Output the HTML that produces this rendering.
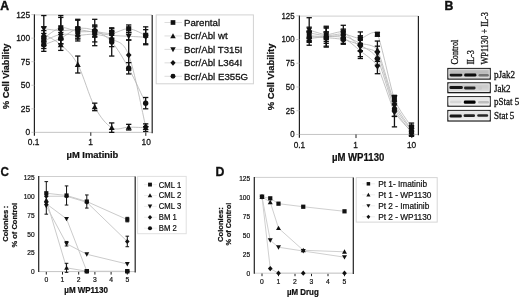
<!DOCTYPE html>
<html><head><meta charset="utf-8"><style>
html,body{margin:0;padding:0;background:#fff;overflow:hidden}
svg{display:block;will-change:transform;filter:blur(0.3px)}
</style></head><body>
<svg width="520" height="299" viewBox="0 0 520 299">
<rect width="520" height="299" fill="#fff"/>
<text x="0" y="0" font-family='"Liberation Sans", sans-serif' font-size="12.8" text-anchor="start" font-weight="bold" fill="#111" stroke="#111" stroke-width="0.45" transform="translate(0.30 10.00) scale(0.95 1.0)">A</text>
<line x1="34.40" y1="14.90" x2="152.20" y2="14.90" stroke="#cfcfcf" stroke-width="1"/>
<line x1="34.40" y1="132.35" x2="152.20" y2="132.35" stroke="#c4c4c4" stroke-width="1"/>
<line x1="152.20" y1="14.90" x2="152.20" y2="133.15" stroke="#222" stroke-width="1.2"/>
<line x1="34.40" y1="14.30" x2="34.40" y2="135.65" stroke="#222" stroke-width="1.2"/>
<line x1="90.80" y1="132.35" x2="90.80" y2="135.85" stroke="#222" stroke-width="1"/>
<line x1="145.80" y1="132.35" x2="145.80" y2="135.85" stroke="#222" stroke-width="1"/>
<line x1="31.40" y1="14.60" x2="34.40" y2="14.60" stroke="#bbb" stroke-width="0.8"/>
<text x="0" y="0" font-family='"Liberation Sans", sans-serif' font-size="8.4" text-anchor="end" fill="#111" stroke="#111" stroke-width="0.25" transform="translate(30.20 17.50) scale(1.0 1.12)">125</text>
<line x1="31.40" y1="38.15" x2="34.40" y2="38.15" stroke="#bbb" stroke-width="0.8"/>
<text x="0" y="0" font-family='"Liberation Sans", sans-serif' font-size="8.4" text-anchor="end" fill="#111" stroke="#111" stroke-width="0.25" transform="translate(30.20 41.05) scale(1.0 1.12)">100</text>
<line x1="31.40" y1="61.70" x2="34.40" y2="61.70" stroke="#bbb" stroke-width="0.8"/>
<text x="0" y="0" font-family='"Liberation Sans", sans-serif' font-size="8.4" text-anchor="end" fill="#111" stroke="#111" stroke-width="0.25" transform="translate(30.20 64.60) scale(1.0 1.12)">75</text>
<line x1="31.40" y1="85.25" x2="34.40" y2="85.25" stroke="#bbb" stroke-width="0.8"/>
<text x="0" y="0" font-family='"Liberation Sans", sans-serif' font-size="8.4" text-anchor="end" fill="#111" stroke="#111" stroke-width="0.25" transform="translate(30.20 88.15) scale(1.0 1.12)">50</text>
<line x1="31.40" y1="108.80" x2="34.40" y2="108.80" stroke="#bbb" stroke-width="0.8"/>
<text x="0" y="0" font-family='"Liberation Sans", sans-serif' font-size="8.4" text-anchor="end" fill="#111" stroke="#111" stroke-width="0.25" transform="translate(30.20 111.70) scale(1.0 1.12)">25</text>
<line x1="31.40" y1="132.35" x2="34.40" y2="132.35" stroke="#bbb" stroke-width="0.8"/>
<text x="0" y="0" font-family='"Liberation Sans", sans-serif' font-size="8.4" text-anchor="end" fill="#111" stroke="#111" stroke-width="0.25" transform="translate(30.20 135.25) scale(1.0 1.12)">0</text>
<text x="0" y="0" font-family='"Liberation Sans", sans-serif' font-size="8.4" text-anchor="middle" fill="#111" stroke="#111" stroke-width="0.25" transform="translate(33.70 145.30) scale(1.0 1.12)">0.1</text>
<text x="0" y="0" font-family='"Liberation Sans", sans-serif' font-size="8.4" text-anchor="middle" fill="#111" stroke="#111" stroke-width="0.25" transform="translate(90.50 145.30) scale(1.0 1.12)">1</text>
<text x="0" y="0" font-family='"Liberation Sans", sans-serif' font-size="8.4" text-anchor="middle" fill="#111" stroke="#111" stroke-width="0.25" transform="translate(146.20 145.30) scale(1.0 1.12)">10</text>
<text x="0" y="0" font-family='"Liberation Sans", sans-serif' font-size="9.4" text-anchor="middle" font-weight="bold" fill="#111" stroke="#111" stroke-width="0.22" transform="translate(92.40 158.20) scale(1.0 1.05)">&#181;M Imatinib</text>
<text x="0" y="0" font-family='"Liberation Sans", sans-serif' font-size="9.2" text-anchor="middle" font-weight="bold" fill="#111" stroke="#111" stroke-width="0.22" transform="translate(9.20 76.30) rotate(-90) scale(1.0 1.05)">% Cell Viability</text>
<path d="M43.80 38.15C46.63 36.42 55.12 28.89 60.78 27.79C66.44 26.69 72.10 30.93 77.76 31.56C83.42 32.18 89.08 31.24 94.74 31.56C100.40 31.87 106.06 33.91 111.72 33.44C117.38 32.97 123.04 28.42 128.70 28.73C134.36 29.04 142.85 34.23 145.68 35.32" fill="none" stroke="#b4b4b4" stroke-width="0.8"/>
<path d="M43.80 34.38C46.63 36.11 55.12 39.72 60.78 44.74C66.44 49.77 72.10 54.16 77.76 64.53C83.42 74.89 89.08 96.40 94.74 106.92C100.40 117.44 106.06 124.26 111.72 127.64C117.38 131.02 123.04 127.17 128.70 127.17C134.36 127.17 142.85 127.56 145.68 127.64" fill="none" stroke="#b4b4b4" stroke-width="0.8"/>
<path d="M43.80 28.73C46.63 29.04 55.12 30.46 60.78 30.61C66.44 30.77 72.10 29.36 77.76 29.67C83.42 29.99 89.08 31.56 94.74 32.50C100.40 33.44 106.06 34.70 111.72 35.32C117.38 35.95 123.04 35.95 128.70 36.27C134.36 36.58 142.85 37.05 145.68 37.21" fill="none" stroke="#b4b4b4" stroke-width="0.8"/>
<path d="M43.80 40.98C46.63 39.88 55.12 35.32 60.78 34.38C66.44 33.44 72.10 35.32 77.76 35.32C83.42 35.32 89.08 33.75 94.74 34.38C100.40 35.01 106.06 35.64 111.72 39.09C117.38 42.55 123.04 40.50 128.70 55.11C134.36 69.71 142.85 114.77 145.68 126.70" fill="none" stroke="#b4b4b4" stroke-width="0.8"/>
<path d="M43.80 44.74C46.63 43.65 55.12 40.82 60.78 38.15C66.44 35.48 72.10 29.99 77.76 28.73C83.42 27.47 89.08 28.42 94.74 30.61C100.40 32.81 106.06 35.64 111.72 41.92C117.38 48.20 123.04 58.09 128.70 68.29C134.36 78.50 142.85 97.34 145.68 103.15" fill="none" stroke="#b4b4b4" stroke-width="0.8"/>
<line x1="43.80" y1="30.61" x2="43.80" y2="45.69" stroke="#111" stroke-width="1.3"/>
<line x1="41.15" y1="30.61" x2="46.45" y2="30.61" stroke="#111" stroke-width="1.3"/>
<line x1="41.15" y1="45.69" x2="46.45" y2="45.69" stroke="#111" stroke-width="1.3"/>
<line x1="60.78" y1="15.54" x2="60.78" y2="40.03" stroke="#111" stroke-width="1.3"/>
<line x1="58.13" y1="15.54" x2="63.43" y2="15.54" stroke="#111" stroke-width="1.3"/>
<line x1="58.13" y1="40.03" x2="63.43" y2="40.03" stroke="#111" stroke-width="1.3"/>
<line x1="77.76" y1="26.85" x2="77.76" y2="36.27" stroke="#111" stroke-width="1.3"/>
<line x1="75.11" y1="26.85" x2="80.41" y2="26.85" stroke="#111" stroke-width="1.3"/>
<line x1="75.11" y1="36.27" x2="80.41" y2="36.27" stroke="#111" stroke-width="1.3"/>
<line x1="94.74" y1="25.90" x2="94.74" y2="37.21" stroke="#111" stroke-width="1.3"/>
<line x1="92.09" y1="25.90" x2="97.39" y2="25.90" stroke="#111" stroke-width="1.3"/>
<line x1="92.09" y1="37.21" x2="97.39" y2="37.21" stroke="#111" stroke-width="1.3"/>
<line x1="111.72" y1="28.73" x2="111.72" y2="38.15" stroke="#111" stroke-width="1.3"/>
<line x1="109.07" y1="28.73" x2="114.37" y2="28.73" stroke="#111" stroke-width="1.3"/>
<line x1="109.07" y1="38.15" x2="114.37" y2="38.15" stroke="#111" stroke-width="1.3"/>
<line x1="128.70" y1="24.96" x2="128.70" y2="32.50" stroke="#111" stroke-width="1.3"/>
<line x1="126.05" y1="24.96" x2="131.35" y2="24.96" stroke="#111" stroke-width="1.3"/>
<line x1="126.05" y1="32.50" x2="131.35" y2="32.50" stroke="#111" stroke-width="1.3"/>
<line x1="145.68" y1="26.85" x2="145.68" y2="43.80" stroke="#111" stroke-width="1.3"/>
<line x1="143.03" y1="26.85" x2="148.33" y2="26.85" stroke="#111" stroke-width="1.3"/>
<line x1="143.03" y1="43.80" x2="148.33" y2="43.80" stroke="#111" stroke-width="1.3"/>
<line x1="43.80" y1="26.85" x2="43.80" y2="41.92" stroke="#111" stroke-width="1.3"/>
<line x1="41.15" y1="26.85" x2="46.45" y2="26.85" stroke="#111" stroke-width="1.3"/>
<line x1="41.15" y1="41.92" x2="46.45" y2="41.92" stroke="#111" stroke-width="1.3"/>
<line x1="60.78" y1="39.09" x2="60.78" y2="50.40" stroke="#111" stroke-width="1.3"/>
<line x1="58.13" y1="39.09" x2="63.43" y2="39.09" stroke="#111" stroke-width="1.3"/>
<line x1="58.13" y1="50.40" x2="63.43" y2="50.40" stroke="#111" stroke-width="1.3"/>
<line x1="77.76" y1="56.05" x2="77.76" y2="73.00" stroke="#111" stroke-width="1.3"/>
<line x1="75.11" y1="56.05" x2="80.41" y2="56.05" stroke="#111" stroke-width="1.3"/>
<line x1="75.11" y1="73.00" x2="80.41" y2="73.00" stroke="#111" stroke-width="1.3"/>
<line x1="94.74" y1="103.15" x2="94.74" y2="110.68" stroke="#111" stroke-width="1.3"/>
<line x1="92.09" y1="103.15" x2="97.39" y2="103.15" stroke="#111" stroke-width="1.3"/>
<line x1="92.09" y1="110.68" x2="97.39" y2="110.68" stroke="#111" stroke-width="1.3"/>
<line x1="111.72" y1="122.93" x2="111.72" y2="132.35" stroke="#111" stroke-width="1.3"/>
<line x1="109.07" y1="122.93" x2="114.37" y2="122.93" stroke="#111" stroke-width="1.3"/>
<line x1="109.07" y1="132.35" x2="114.37" y2="132.35" stroke="#111" stroke-width="1.3"/>
<line x1="128.70" y1="124.34" x2="128.70" y2="130.00" stroke="#111" stroke-width="1.3"/>
<line x1="126.05" y1="124.34" x2="131.35" y2="124.34" stroke="#111" stroke-width="1.3"/>
<line x1="126.05" y1="130.00" x2="131.35" y2="130.00" stroke="#111" stroke-width="1.3"/>
<line x1="145.68" y1="123.87" x2="145.68" y2="131.41" stroke="#111" stroke-width="1.3"/>
<line x1="143.03" y1="123.87" x2="148.33" y2="123.87" stroke="#111" stroke-width="1.3"/>
<line x1="143.03" y1="131.41" x2="148.33" y2="131.41" stroke="#111" stroke-width="1.3"/>
<line x1="43.80" y1="15.54" x2="43.80" y2="41.92" stroke="#111" stroke-width="1.3"/>
<line x1="41.15" y1="15.54" x2="46.45" y2="15.54" stroke="#111" stroke-width="1.3"/>
<line x1="41.15" y1="41.92" x2="46.45" y2="41.92" stroke="#111" stroke-width="1.3"/>
<line x1="60.78" y1="17.43" x2="60.78" y2="43.80" stroke="#111" stroke-width="1.3"/>
<line x1="58.13" y1="17.43" x2="63.43" y2="17.43" stroke="#111" stroke-width="1.3"/>
<line x1="58.13" y1="43.80" x2="63.43" y2="43.80" stroke="#111" stroke-width="1.3"/>
<line x1="77.76" y1="20.25" x2="77.76" y2="39.09" stroke="#111" stroke-width="1.3"/>
<line x1="75.11" y1="20.25" x2="80.41" y2="20.25" stroke="#111" stroke-width="1.3"/>
<line x1="75.11" y1="39.09" x2="80.41" y2="39.09" stroke="#111" stroke-width="1.3"/>
<line x1="94.74" y1="19.31" x2="94.74" y2="45.69" stroke="#111" stroke-width="1.3"/>
<line x1="92.09" y1="19.31" x2="97.39" y2="19.31" stroke="#111" stroke-width="1.3"/>
<line x1="92.09" y1="45.69" x2="97.39" y2="45.69" stroke="#111" stroke-width="1.3"/>
<line x1="111.72" y1="30.61" x2="111.72" y2="40.03" stroke="#111" stroke-width="1.3"/>
<line x1="109.07" y1="30.61" x2="114.37" y2="30.61" stroke="#111" stroke-width="1.3"/>
<line x1="109.07" y1="40.03" x2="114.37" y2="40.03" stroke="#111" stroke-width="1.3"/>
<line x1="128.70" y1="32.50" x2="128.70" y2="40.03" stroke="#111" stroke-width="1.3"/>
<line x1="126.05" y1="32.50" x2="131.35" y2="32.50" stroke="#111" stroke-width="1.3"/>
<line x1="126.05" y1="40.03" x2="131.35" y2="40.03" stroke="#111" stroke-width="1.3"/>
<line x1="145.68" y1="29.67" x2="145.68" y2="44.74" stroke="#111" stroke-width="1.3"/>
<line x1="143.03" y1="29.67" x2="148.33" y2="29.67" stroke="#111" stroke-width="1.3"/>
<line x1="143.03" y1="44.74" x2="148.33" y2="44.74" stroke="#111" stroke-width="1.3"/>
<line x1="43.80" y1="33.44" x2="43.80" y2="48.51" stroke="#111" stroke-width="1.3"/>
<line x1="41.15" y1="33.44" x2="46.45" y2="33.44" stroke="#111" stroke-width="1.3"/>
<line x1="41.15" y1="48.51" x2="46.45" y2="48.51" stroke="#111" stroke-width="1.3"/>
<line x1="60.78" y1="29.67" x2="60.78" y2="39.09" stroke="#111" stroke-width="1.3"/>
<line x1="58.13" y1="29.67" x2="63.43" y2="29.67" stroke="#111" stroke-width="1.3"/>
<line x1="58.13" y1="39.09" x2="63.43" y2="39.09" stroke="#111" stroke-width="1.3"/>
<line x1="77.76" y1="29.67" x2="77.76" y2="40.98" stroke="#111" stroke-width="1.3"/>
<line x1="75.11" y1="29.67" x2="80.41" y2="29.67" stroke="#111" stroke-width="1.3"/>
<line x1="75.11" y1="40.98" x2="80.41" y2="40.98" stroke="#111" stroke-width="1.3"/>
<line x1="94.74" y1="26.85" x2="94.74" y2="41.92" stroke="#111" stroke-width="1.3"/>
<line x1="92.09" y1="26.85" x2="97.39" y2="26.85" stroke="#111" stroke-width="1.3"/>
<line x1="92.09" y1="41.92" x2="97.39" y2="41.92" stroke="#111" stroke-width="1.3"/>
<line x1="111.72" y1="31.56" x2="111.72" y2="46.63" stroke="#111" stroke-width="1.3"/>
<line x1="109.07" y1="31.56" x2="114.37" y2="31.56" stroke="#111" stroke-width="1.3"/>
<line x1="109.07" y1="46.63" x2="114.37" y2="46.63" stroke="#111" stroke-width="1.3"/>
<line x1="128.70" y1="40.03" x2="128.70" y2="70.18" stroke="#111" stroke-width="1.3"/>
<line x1="126.05" y1="40.03" x2="131.35" y2="40.03" stroke="#111" stroke-width="1.3"/>
<line x1="126.05" y1="70.18" x2="131.35" y2="70.18" stroke="#111" stroke-width="1.3"/>
<line x1="145.68" y1="126.70" x2="145.68" y2="126.70" stroke="#111" stroke-width="1.3"/>
<line x1="143.03" y1="126.70" x2="148.33" y2="126.70" stroke="#111" stroke-width="1.3"/>
<line x1="143.03" y1="126.70" x2="148.33" y2="126.70" stroke="#111" stroke-width="1.3"/>
<line x1="43.80" y1="38.15" x2="43.80" y2="51.34" stroke="#111" stroke-width="1.3"/>
<line x1="41.15" y1="38.15" x2="46.45" y2="38.15" stroke="#111" stroke-width="1.3"/>
<line x1="41.15" y1="51.34" x2="46.45" y2="51.34" stroke="#111" stroke-width="1.3"/>
<line x1="60.78" y1="32.50" x2="60.78" y2="43.80" stroke="#111" stroke-width="1.3"/>
<line x1="58.13" y1="32.50" x2="63.43" y2="32.50" stroke="#111" stroke-width="1.3"/>
<line x1="58.13" y1="43.80" x2="63.43" y2="43.80" stroke="#111" stroke-width="1.3"/>
<line x1="77.76" y1="19.31" x2="77.76" y2="38.15" stroke="#111" stroke-width="1.3"/>
<line x1="75.11" y1="19.31" x2="80.41" y2="19.31" stroke="#111" stroke-width="1.3"/>
<line x1="75.11" y1="38.15" x2="80.41" y2="38.15" stroke="#111" stroke-width="1.3"/>
<line x1="94.74" y1="24.96" x2="94.74" y2="36.27" stroke="#111" stroke-width="1.3"/>
<line x1="92.09" y1="24.96" x2="97.39" y2="24.96" stroke="#111" stroke-width="1.3"/>
<line x1="92.09" y1="36.27" x2="97.39" y2="36.27" stroke="#111" stroke-width="1.3"/>
<line x1="111.72" y1="27.79" x2="111.72" y2="56.05" stroke="#111" stroke-width="1.3"/>
<line x1="109.07" y1="27.79" x2="114.37" y2="27.79" stroke="#111" stroke-width="1.3"/>
<line x1="109.07" y1="56.05" x2="114.37" y2="56.05" stroke="#111" stroke-width="1.3"/>
<line x1="128.70" y1="62.64" x2="128.70" y2="73.95" stroke="#111" stroke-width="1.3"/>
<line x1="126.05" y1="62.64" x2="131.35" y2="62.64" stroke="#111" stroke-width="1.3"/>
<line x1="126.05" y1="73.95" x2="131.35" y2="73.95" stroke="#111" stroke-width="1.3"/>
<line x1="145.68" y1="97.50" x2="145.68" y2="108.80" stroke="#111" stroke-width="1.3"/>
<line x1="143.03" y1="97.50" x2="148.33" y2="97.50" stroke="#111" stroke-width="1.3"/>
<line x1="143.03" y1="108.80" x2="148.33" y2="108.80" stroke="#111" stroke-width="1.3"/>
<rect x="41.23" y="35.59" width="5.13" height="5.13" fill="#111"/>
<rect x="58.22" y="25.22" width="5.13" height="5.13" fill="#111"/>
<rect x="75.19" y="28.99" width="5.13" height="5.13" fill="#111"/>
<rect x="92.17" y="28.99" width="5.13" height="5.13" fill="#111"/>
<rect x="109.16" y="30.87" width="5.13" height="5.13" fill="#111"/>
<rect x="126.13" y="26.17" width="5.13" height="5.13" fill="#111"/>
<rect x="143.12" y="32.76" width="5.13" height="5.13" fill="#111"/>
<path d="M43.80 31.39L46.79 36.80L40.81 36.80Z" fill="#111"/>
<path d="M60.78 41.75L63.77 47.17L57.79 47.17Z" fill="#111"/>
<path d="M77.76 61.53L80.75 66.95L74.77 66.95Z" fill="#111"/>
<path d="M94.74 103.92L97.73 109.34L91.75 109.34Z" fill="#111"/>
<path d="M111.72 124.65L114.71 130.06L108.73 130.06Z" fill="#111"/>
<path d="M128.70 124.18L131.69 129.59L125.71 129.59Z" fill="#111"/>
<path d="M145.68 124.65L148.67 130.06L142.69 130.06Z" fill="#111"/>
<path d="M43.80 31.72L46.79 26.31L40.81 26.31Z" fill="#111"/>
<path d="M60.78 33.61L63.77 28.19L57.79 28.19Z" fill="#111"/>
<path d="M77.76 32.66L80.75 27.25L74.77 27.25Z" fill="#111"/>
<path d="M94.74 35.49L97.73 30.08L91.75 30.08Z" fill="#111"/>
<path d="M111.72 38.32L114.71 32.90L108.73 32.90Z" fill="#111"/>
<path d="M128.70 39.26L131.69 33.84L125.71 33.84Z" fill="#111"/>
<path d="M145.68 40.20L148.67 34.79L142.69 34.79Z" fill="#111"/>
<path d="M43.80 37.84L46.65 40.98L43.80 44.11L40.95 40.98Z" fill="#111"/>
<path d="M60.78 31.25L63.63 34.38L60.78 37.52L57.93 34.38Z" fill="#111"/>
<path d="M77.76 32.19L80.61 35.32L77.76 38.46L74.91 35.32Z" fill="#111"/>
<path d="M94.74 31.25L97.59 34.38L94.74 37.52L91.89 34.38Z" fill="#111"/>
<path d="M111.72 35.96L114.57 39.09L111.72 42.23L108.87 39.09Z" fill="#111"/>
<path d="M128.70 51.97L131.55 55.11L128.70 58.24L125.85 55.11Z" fill="#111"/>
<path d="M145.68 123.56L148.53 126.70L145.68 129.83L142.83 126.70Z" fill="#111"/>
<circle cx="43.80" cy="44.74" r="2.71" fill="#111"/>
<circle cx="60.78" cy="38.15" r="2.71" fill="#111"/>
<circle cx="77.76" cy="28.73" r="2.71" fill="#111"/>
<circle cx="94.74" cy="30.61" r="2.71" fill="#111"/>
<circle cx="111.72" cy="41.92" r="2.71" fill="#111"/>
<circle cx="128.70" cy="68.29" r="2.71" fill="#111"/>
<circle cx="145.68" cy="103.15" r="2.71" fill="#111"/>
<rect x="156.2" y="14.9" width="97.2" height="68.9" fill="none" stroke="#d2d2d2" stroke-width="1"/>
<line x1="164.50" y1="22.50" x2="182.00" y2="22.50" stroke="#d4d4d4" stroke-width="0.8"/>
<rect x="170.66" y="20.16" width="4.68" height="4.68" fill="#111"/>
<text x="0" y="0" font-family='"Liberation Sans", sans-serif' font-size="9.7" text-anchor="start" fill="#111" stroke="#111" stroke-width="0.28" transform="translate(184.00 25.80)">Parental</text>
<line x1="164.50" y1="35.95" x2="182.00" y2="35.95" stroke="#d4d4d4" stroke-width="0.8"/>
<path d="M173.00 33.22L175.73 38.16L170.27 38.16Z" fill="#111"/>
<text x="0" y="0" font-family='"Liberation Sans", sans-serif' font-size="9.7" text-anchor="start" fill="#111" stroke="#111" stroke-width="0.28" transform="translate(184.00 39.25)">Bcr/Abl wt</text>
<line x1="164.50" y1="49.40" x2="182.00" y2="49.40" stroke="#d4d4d4" stroke-width="0.8"/>
<path d="M173.00 52.13L175.73 47.19L170.27 47.19Z" fill="#111"/>
<text x="0" y="0" font-family='"Liberation Sans", sans-serif' font-size="9.7" text-anchor="start" fill="#111" stroke="#111" stroke-width="0.28" transform="translate(184.00 52.70)">Bcr/Abl T315I</text>
<line x1="164.50" y1="62.85" x2="182.00" y2="62.85" stroke="#d4d4d4" stroke-width="0.8"/>
<path d="M173.00 59.99L175.60 62.85L173.00 65.71L170.40 62.85Z" fill="#111"/>
<text x="0" y="0" font-family='"Liberation Sans", sans-serif' font-size="9.7" text-anchor="start" fill="#111" stroke="#111" stroke-width="0.28" transform="translate(184.00 66.15)">Bcr/Abl L364I</text>
<line x1="164.50" y1="76.30" x2="182.00" y2="76.30" stroke="#d4d4d4" stroke-width="0.8"/>
<circle cx="173.00" cy="76.30" r="2.47" fill="#111"/>
<text x="0" y="0" font-family='"Liberation Sans", sans-serif' font-size="9.7" text-anchor="start" fill="#111" stroke="#111" stroke-width="0.28" transform="translate(184.00 79.60)">Bcr/Abl E355G</text>
<line x1="299.40" y1="16.10" x2="418.40" y2="16.10" stroke="#cfcfcf" stroke-width="1"/>
<line x1="299.40" y1="134.45" x2="418.40" y2="134.45" stroke="#c4c4c4" stroke-width="1"/>
<line x1="418.40" y1="16.10" x2="418.40" y2="135.25" stroke="#222" stroke-width="1.2"/>
<line x1="299.40" y1="15.50" x2="299.40" y2="137.75" stroke="#222" stroke-width="1.2"/>
<line x1="356.00" y1="134.45" x2="356.00" y2="138.05" stroke="#222" stroke-width="1"/>
<line x1="411.80" y1="134.45" x2="411.80" y2="138.05" stroke="#222" stroke-width="1"/>
<line x1="296.40" y1="15.80" x2="299.40" y2="15.80" stroke="#bbb" stroke-width="0.8"/>
<text x="0" y="0" font-family='"Liberation Sans", sans-serif' font-size="7.9" text-anchor="end" fill="#111" stroke="#111" stroke-width="0.25" transform="translate(294.60 18.65) scale(1.0 1.18)">125</text>
<line x1="296.40" y1="39.53" x2="299.40" y2="39.53" stroke="#bbb" stroke-width="0.8"/>
<text x="0" y="0" font-family='"Liberation Sans", sans-serif' font-size="7.9" text-anchor="end" fill="#111" stroke="#111" stroke-width="0.25" transform="translate(294.60 42.38) scale(1.0 1.18)">100</text>
<line x1="296.40" y1="63.26" x2="299.40" y2="63.26" stroke="#bbb" stroke-width="0.8"/>
<text x="0" y="0" font-family='"Liberation Sans", sans-serif' font-size="7.9" text-anchor="end" fill="#111" stroke="#111" stroke-width="0.25" transform="translate(294.60 66.11) scale(1.0 1.18)">75</text>
<line x1="296.40" y1="86.99" x2="299.40" y2="86.99" stroke="#bbb" stroke-width="0.8"/>
<text x="0" y="0" font-family='"Liberation Sans", sans-serif' font-size="7.9" text-anchor="end" fill="#111" stroke="#111" stroke-width="0.25" transform="translate(294.60 89.84) scale(1.0 1.18)">50</text>
<line x1="296.40" y1="110.72" x2="299.40" y2="110.72" stroke="#bbb" stroke-width="0.8"/>
<text x="0" y="0" font-family='"Liberation Sans", sans-serif' font-size="7.9" text-anchor="end" fill="#111" stroke="#111" stroke-width="0.25" transform="translate(294.60 113.57) scale(1.0 1.18)">25</text>
<line x1="296.40" y1="134.45" x2="299.40" y2="134.45" stroke="#bbb" stroke-width="0.8"/>
<text x="0" y="0" font-family='"Liberation Sans", sans-serif' font-size="7.9" text-anchor="end" fill="#111" stroke="#111" stroke-width="0.25" transform="translate(294.60 137.30) scale(1.0 1.18)">0</text>
<text x="0" y="0" font-family='"Liberation Sans", sans-serif' font-size="8.3" text-anchor="middle" fill="#111" stroke="#111" stroke-width="0.25" transform="translate(299.40 148.00) scale(1.0 1.12)">0.1</text>
<text x="0" y="0" font-family='"Liberation Sans", sans-serif' font-size="8.3" text-anchor="middle" fill="#111" stroke="#111" stroke-width="0.25" transform="translate(355.50 148.00) scale(1.0 1.12)">1</text>
<text x="0" y="0" font-family='"Liberation Sans", sans-serif' font-size="8.3" text-anchor="middle" fill="#111" stroke="#111" stroke-width="0.25" transform="translate(411.60 148.00) scale(1.0 1.12)">10</text>
<text x="0" y="0" font-family='"Liberation Sans", sans-serif' font-size="9.6" text-anchor="middle" font-weight="bold" fill="#111" stroke="#111" stroke-width="0.22" transform="translate(358.10 160.60) scale(1.0 1.05)">&#181;M WP1130</text>
<text x="0" y="0" font-family='"Liberation Sans", sans-serif' font-size="9.4" text-anchor="middle" font-weight="bold" fill="#111" stroke="#111" stroke-width="0.22" transform="translate(273.60 76.90) rotate(-90) scale(1.0 1.05)">% Cell Viability</text>
<path d="M309.20 32.89C310.90 33.17 322.84 35.64 326.25 35.73C329.66 35.83 339.89 33.55 343.30 33.83C346.71 34.12 356.94 38.53 360.35 38.58C363.76 38.63 373.99 28.23 377.40 34.31C380.81 40.38 391.04 90.07 394.45 99.33C397.86 108.58 409.80 124.10 411.50 126.86" fill="none" stroke="#b4b4b4" stroke-width="0.8"/>
<path d="M309.20 35.73C310.90 35.83 322.84 36.68 326.25 36.68C329.66 36.68 339.89 35.07 343.30 35.73C346.71 36.40 356.94 41.90 360.35 43.33C363.76 44.75 373.99 43.99 377.40 49.97C380.81 55.95 391.04 95.15 394.45 103.13C397.86 111.10 409.80 127.05 411.50 129.70" fill="none" stroke="#b4b4b4" stroke-width="0.8"/>
<path d="M309.20 30.04C310.90 30.51 322.84 34.59 326.25 34.78C329.66 34.97 339.89 30.70 343.30 31.94C346.71 33.17 356.94 44.94 360.35 47.12C363.76 49.31 373.99 47.88 377.40 53.77C380.81 59.65 391.04 98.29 394.45 105.97C397.86 113.66 409.80 128.19 411.50 130.65" fill="none" stroke="#b4b4b4" stroke-width="0.8"/>
<path d="M309.20 38.58C310.90 38.39 322.84 36.78 326.25 36.68C329.66 36.59 339.89 36.21 343.30 37.63C346.71 39.06 356.94 48.07 360.35 50.92C363.76 53.77 373.99 60.03 377.40 66.11C380.81 72.18 391.04 105.12 394.45 111.67C397.86 118.22 409.80 129.61 411.50 131.60" fill="none" stroke="#b4b4b4" stroke-width="0.8"/>
<path d="M309.20 36.68C310.90 36.78 322.84 37.35 326.25 37.63C329.66 37.92 339.89 38.77 343.30 39.53C346.71 40.29 356.94 43.33 360.35 45.23C363.76 47.12 373.99 52.15 377.40 58.51C380.81 64.87 391.04 101.42 394.45 108.82C397.86 116.23 409.80 130.18 411.50 132.55" fill="none" stroke="#b4b4b4" stroke-width="0.8"/>
<line x1="309.20" y1="27.19" x2="309.20" y2="38.58" stroke="#111" stroke-width="1.3"/>
<line x1="306.55" y1="27.19" x2="311.85" y2="27.19" stroke="#111" stroke-width="1.3"/>
<line x1="306.55" y1="38.58" x2="311.85" y2="38.58" stroke="#111" stroke-width="1.3"/>
<line x1="326.25" y1="31.94" x2="326.25" y2="39.53" stroke="#111" stroke-width="1.3"/>
<line x1="323.60" y1="31.94" x2="328.90" y2="31.94" stroke="#111" stroke-width="1.3"/>
<line x1="323.60" y1="39.53" x2="328.90" y2="39.53" stroke="#111" stroke-width="1.3"/>
<line x1="343.30" y1="29.09" x2="343.30" y2="38.58" stroke="#111" stroke-width="1.3"/>
<line x1="340.65" y1="29.09" x2="345.95" y2="29.09" stroke="#111" stroke-width="1.3"/>
<line x1="340.65" y1="38.58" x2="345.95" y2="38.58" stroke="#111" stroke-width="1.3"/>
<line x1="360.35" y1="31.94" x2="360.35" y2="45.23" stroke="#111" stroke-width="1.3"/>
<line x1="357.70" y1="31.94" x2="363.00" y2="31.94" stroke="#111" stroke-width="1.3"/>
<line x1="357.70" y1="45.23" x2="363.00" y2="45.23" stroke="#111" stroke-width="1.3"/>
<line x1="377.40" y1="32.41" x2="377.40" y2="36.21" stroke="#111" stroke-width="1.3"/>
<line x1="374.75" y1="32.41" x2="380.05" y2="32.41" stroke="#111" stroke-width="1.3"/>
<line x1="374.75" y1="36.21" x2="380.05" y2="36.21" stroke="#111" stroke-width="1.3"/>
<line x1="394.45" y1="95.53" x2="394.45" y2="103.13" stroke="#111" stroke-width="1.3"/>
<line x1="391.80" y1="95.53" x2="397.10" y2="95.53" stroke="#111" stroke-width="1.3"/>
<line x1="391.80" y1="103.13" x2="397.10" y2="103.13" stroke="#111" stroke-width="1.3"/>
<line x1="411.50" y1="123.06" x2="411.50" y2="130.65" stroke="#111" stroke-width="1.3"/>
<line x1="408.85" y1="123.06" x2="414.15" y2="123.06" stroke="#111" stroke-width="1.3"/>
<line x1="408.85" y1="130.65" x2="414.15" y2="130.65" stroke="#111" stroke-width="1.3"/>
<line x1="309.20" y1="30.99" x2="309.20" y2="40.48" stroke="#111" stroke-width="1.3"/>
<line x1="306.55" y1="30.99" x2="311.85" y2="30.99" stroke="#111" stroke-width="1.3"/>
<line x1="306.55" y1="40.48" x2="311.85" y2="40.48" stroke="#111" stroke-width="1.3"/>
<line x1="326.25" y1="27.19" x2="326.25" y2="46.17" stroke="#111" stroke-width="1.3"/>
<line x1="323.60" y1="27.19" x2="328.90" y2="27.19" stroke="#111" stroke-width="1.3"/>
<line x1="323.60" y1="46.17" x2="328.90" y2="46.17" stroke="#111" stroke-width="1.3"/>
<line x1="343.30" y1="30.99" x2="343.30" y2="40.48" stroke="#111" stroke-width="1.3"/>
<line x1="340.65" y1="30.99" x2="345.95" y2="30.99" stroke="#111" stroke-width="1.3"/>
<line x1="340.65" y1="40.48" x2="345.95" y2="40.48" stroke="#111" stroke-width="1.3"/>
<line x1="360.35" y1="35.73" x2="360.35" y2="50.92" stroke="#111" stroke-width="1.3"/>
<line x1="357.70" y1="35.73" x2="363.00" y2="35.73" stroke="#111" stroke-width="1.3"/>
<line x1="357.70" y1="50.92" x2="363.00" y2="50.92" stroke="#111" stroke-width="1.3"/>
<line x1="377.40" y1="41.05" x2="377.40" y2="58.89" stroke="#111" stroke-width="1.3"/>
<line x1="374.75" y1="41.05" x2="380.05" y2="41.05" stroke="#111" stroke-width="1.3"/>
<line x1="374.75" y1="58.89" x2="380.05" y2="58.89" stroke="#111" stroke-width="1.3"/>
<line x1="394.45" y1="95.53" x2="394.45" y2="110.72" stroke="#111" stroke-width="1.3"/>
<line x1="391.80" y1="95.53" x2="397.10" y2="95.53" stroke="#111" stroke-width="1.3"/>
<line x1="391.80" y1="110.72" x2="397.10" y2="110.72" stroke="#111" stroke-width="1.3"/>
<line x1="411.50" y1="125.91" x2="411.50" y2="133.50" stroke="#111" stroke-width="1.3"/>
<line x1="408.85" y1="125.91" x2="414.15" y2="125.91" stroke="#111" stroke-width="1.3"/>
<line x1="408.85" y1="133.50" x2="414.15" y2="133.50" stroke="#111" stroke-width="1.3"/>
<line x1="309.20" y1="17.70" x2="309.20" y2="42.38" stroke="#111" stroke-width="1.3"/>
<line x1="306.55" y1="17.70" x2="311.85" y2="17.70" stroke="#111" stroke-width="1.3"/>
<line x1="306.55" y1="42.38" x2="311.85" y2="42.38" stroke="#111" stroke-width="1.3"/>
<line x1="326.25" y1="28.14" x2="326.25" y2="41.43" stroke="#111" stroke-width="1.3"/>
<line x1="323.60" y1="28.14" x2="328.90" y2="28.14" stroke="#111" stroke-width="1.3"/>
<line x1="323.60" y1="41.43" x2="328.90" y2="41.43" stroke="#111" stroke-width="1.3"/>
<line x1="343.30" y1="25.29" x2="343.30" y2="38.58" stroke="#111" stroke-width="1.3"/>
<line x1="340.65" y1="25.29" x2="345.95" y2="25.29" stroke="#111" stroke-width="1.3"/>
<line x1="340.65" y1="38.58" x2="345.95" y2="38.58" stroke="#111" stroke-width="1.3"/>
<line x1="360.35" y1="37.63" x2="360.35" y2="56.62" stroke="#111" stroke-width="1.3"/>
<line x1="357.70" y1="37.63" x2="363.00" y2="37.63" stroke="#111" stroke-width="1.3"/>
<line x1="357.70" y1="56.62" x2="363.00" y2="56.62" stroke="#111" stroke-width="1.3"/>
<line x1="377.40" y1="46.17" x2="377.40" y2="61.36" stroke="#111" stroke-width="1.3"/>
<line x1="374.75" y1="46.17" x2="380.05" y2="46.17" stroke="#111" stroke-width="1.3"/>
<line x1="374.75" y1="61.36" x2="380.05" y2="61.36" stroke="#111" stroke-width="1.3"/>
<line x1="394.45" y1="95.53" x2="394.45" y2="116.42" stroke="#111" stroke-width="1.3"/>
<line x1="391.80" y1="95.53" x2="397.10" y2="95.53" stroke="#111" stroke-width="1.3"/>
<line x1="391.80" y1="116.42" x2="397.10" y2="116.42" stroke="#111" stroke-width="1.3"/>
<line x1="411.50" y1="125.91" x2="411.50" y2="135.40" stroke="#111" stroke-width="1.3"/>
<line x1="408.85" y1="125.91" x2="414.15" y2="125.91" stroke="#111" stroke-width="1.3"/>
<line x1="408.85" y1="135.40" x2="414.15" y2="135.40" stroke="#111" stroke-width="1.3"/>
<line x1="309.20" y1="31.94" x2="309.20" y2="45.23" stroke="#111" stroke-width="1.3"/>
<line x1="306.55" y1="31.94" x2="311.85" y2="31.94" stroke="#111" stroke-width="1.3"/>
<line x1="306.55" y1="45.23" x2="311.85" y2="45.23" stroke="#111" stroke-width="1.3"/>
<line x1="326.25" y1="26.24" x2="326.25" y2="47.12" stroke="#111" stroke-width="1.3"/>
<line x1="323.60" y1="26.24" x2="328.90" y2="26.24" stroke="#111" stroke-width="1.3"/>
<line x1="323.60" y1="47.12" x2="328.90" y2="47.12" stroke="#111" stroke-width="1.3"/>
<line x1="343.30" y1="31.94" x2="343.30" y2="43.33" stroke="#111" stroke-width="1.3"/>
<line x1="340.65" y1="31.94" x2="345.95" y2="31.94" stroke="#111" stroke-width="1.3"/>
<line x1="340.65" y1="43.33" x2="345.95" y2="43.33" stroke="#111" stroke-width="1.3"/>
<line x1="360.35" y1="43.33" x2="360.35" y2="58.51" stroke="#111" stroke-width="1.3"/>
<line x1="357.70" y1="43.33" x2="363.00" y2="43.33" stroke="#111" stroke-width="1.3"/>
<line x1="357.70" y1="58.51" x2="363.00" y2="58.51" stroke="#111" stroke-width="1.3"/>
<line x1="377.40" y1="58.51" x2="377.40" y2="73.70" stroke="#111" stroke-width="1.3"/>
<line x1="374.75" y1="58.51" x2="380.05" y2="58.51" stroke="#111" stroke-width="1.3"/>
<line x1="374.75" y1="73.70" x2="380.05" y2="73.70" stroke="#111" stroke-width="1.3"/>
<line x1="394.45" y1="96.48" x2="394.45" y2="126.86" stroke="#111" stroke-width="1.3"/>
<line x1="391.80" y1="96.48" x2="397.10" y2="96.48" stroke="#111" stroke-width="1.3"/>
<line x1="391.80" y1="126.86" x2="397.10" y2="126.86" stroke="#111" stroke-width="1.3"/>
<line x1="411.50" y1="127.81" x2="411.50" y2="135.40" stroke="#111" stroke-width="1.3"/>
<line x1="408.85" y1="127.81" x2="414.15" y2="127.81" stroke="#111" stroke-width="1.3"/>
<line x1="408.85" y1="135.40" x2="414.15" y2="135.40" stroke="#111" stroke-width="1.3"/>
<line x1="309.20" y1="31.94" x2="309.20" y2="41.43" stroke="#111" stroke-width="1.3"/>
<line x1="306.55" y1="31.94" x2="311.85" y2="31.94" stroke="#111" stroke-width="1.3"/>
<line x1="306.55" y1="41.43" x2="311.85" y2="41.43" stroke="#111" stroke-width="1.3"/>
<line x1="326.25" y1="31.94" x2="326.25" y2="43.33" stroke="#111" stroke-width="1.3"/>
<line x1="323.60" y1="31.94" x2="328.90" y2="31.94" stroke="#111" stroke-width="1.3"/>
<line x1="323.60" y1="43.33" x2="328.90" y2="43.33" stroke="#111" stroke-width="1.3"/>
<line x1="343.30" y1="34.78" x2="343.30" y2="44.28" stroke="#111" stroke-width="1.3"/>
<line x1="340.65" y1="34.78" x2="345.95" y2="34.78" stroke="#111" stroke-width="1.3"/>
<line x1="340.65" y1="44.28" x2="345.95" y2="44.28" stroke="#111" stroke-width="1.3"/>
<line x1="360.35" y1="39.53" x2="360.35" y2="50.92" stroke="#111" stroke-width="1.3"/>
<line x1="357.70" y1="39.53" x2="363.00" y2="39.53" stroke="#111" stroke-width="1.3"/>
<line x1="357.70" y1="50.92" x2="363.00" y2="50.92" stroke="#111" stroke-width="1.3"/>
<line x1="377.40" y1="51.87" x2="377.40" y2="65.16" stroke="#111" stroke-width="1.3"/>
<line x1="374.75" y1="51.87" x2="380.05" y2="51.87" stroke="#111" stroke-width="1.3"/>
<line x1="374.75" y1="65.16" x2="380.05" y2="65.16" stroke="#111" stroke-width="1.3"/>
<line x1="394.45" y1="101.23" x2="394.45" y2="116.42" stroke="#111" stroke-width="1.3"/>
<line x1="391.80" y1="101.23" x2="397.10" y2="101.23" stroke="#111" stroke-width="1.3"/>
<line x1="391.80" y1="116.42" x2="397.10" y2="116.42" stroke="#111" stroke-width="1.3"/>
<line x1="411.50" y1="128.75" x2="411.50" y2="136.35" stroke="#111" stroke-width="1.3"/>
<line x1="408.85" y1="128.75" x2="414.15" y2="128.75" stroke="#111" stroke-width="1.3"/>
<line x1="408.85" y1="136.35" x2="414.15" y2="136.35" stroke="#111" stroke-width="1.3"/>
<rect x="306.72" y="30.41" width="4.95" height="4.95" fill="#111"/>
<rect x="323.77" y="33.26" width="4.95" height="4.95" fill="#111"/>
<rect x="340.82" y="31.36" width="4.95" height="4.95" fill="#111"/>
<rect x="357.88" y="36.11" width="4.95" height="4.95" fill="#111"/>
<rect x="374.92" y="31.83" width="4.95" height="4.95" fill="#111"/>
<rect x="391.97" y="96.85" width="4.95" height="4.95" fill="#111"/>
<rect x="409.02" y="124.38" width="4.95" height="4.95" fill="#111"/>
<path d="M309.20 32.85L312.09 38.07L306.31 38.07Z" fill="#111"/>
<path d="M326.25 33.79L329.14 39.02L323.36 39.02Z" fill="#111"/>
<path d="M343.30 32.85L346.19 38.07L340.41 38.07Z" fill="#111"/>
<path d="M360.35 40.44L363.24 45.66L357.46 45.66Z" fill="#111"/>
<path d="M377.40 47.08L380.29 52.31L374.51 52.31Z" fill="#111"/>
<path d="M394.45 100.24L397.34 105.46L391.56 105.46Z" fill="#111"/>
<path d="M411.50 126.82L414.39 132.04L408.61 132.04Z" fill="#111"/>
<path d="M309.20 32.93L312.09 27.70L306.31 27.70Z" fill="#111"/>
<path d="M326.25 37.67L329.14 32.45L323.36 32.45Z" fill="#111"/>
<path d="M343.30 34.82L346.19 29.60L340.41 29.60Z" fill="#111"/>
<path d="M360.35 50.01L363.24 44.79L357.46 44.79Z" fill="#111"/>
<path d="M377.40 56.66L380.29 51.43L374.51 51.43Z" fill="#111"/>
<path d="M394.45 108.86L397.34 103.64L391.56 103.64Z" fill="#111"/>
<path d="M411.50 133.54L414.39 128.32L408.61 128.32Z" fill="#111"/>
<path d="M309.20 35.56L311.95 38.58L309.20 41.61L306.45 38.58Z" fill="#111"/>
<path d="M326.25 33.66L329.00 36.68L326.25 39.71L323.50 36.68Z" fill="#111"/>
<path d="M343.30 34.61L346.05 37.63L343.30 40.66L340.55 37.63Z" fill="#111"/>
<path d="M360.35 47.90L363.10 50.92L360.35 53.95L357.60 50.92Z" fill="#111"/>
<path d="M377.40 63.08L380.15 66.11L377.40 69.13L374.65 66.11Z" fill="#111"/>
<path d="M394.45 108.64L397.20 111.67L394.45 114.69L391.70 111.67Z" fill="#111"/>
<path d="M411.50 128.58L414.25 131.60L411.50 134.63L408.75 131.60Z" fill="#111"/>
<circle cx="309.20" cy="36.68" r="2.61" fill="#111"/>
<circle cx="326.25" cy="37.63" r="2.61" fill="#111"/>
<circle cx="343.30" cy="39.53" r="2.61" fill="#111"/>
<circle cx="360.35" cy="45.23" r="2.61" fill="#111"/>
<circle cx="377.40" cy="58.51" r="2.61" fill="#111"/>
<circle cx="394.45" cy="108.82" r="2.61" fill="#111"/>
<circle cx="411.50" cy="132.55" r="2.61" fill="#111"/>
<text x="0" y="0" font-family='"Liberation Sans", sans-serif' font-size="13.0" text-anchor="start" font-weight="bold" fill="#111" stroke="#111" stroke-width="0.45" transform="translate(444.60 9.60) scale(0.94 1.0)">B</text>
<text x="0" y="0" font-family='"Liberation Serif", serif' font-size="9.3" text-anchor="start" fill="#111" stroke="#111" stroke-width="0.3" transform="translate(458.10 64.60) rotate(-90) scale(0.88 1.0)">Control</text>
<text x="0" y="0" font-family='"Liberation Serif", serif' font-size="9.3" text-anchor="start" fill="#111" stroke="#111" stroke-width="0.3" transform="translate(473.60 64.60) rotate(-90) scale(0.88 1.0)">IL-3</text>
<text x="0" y="0" font-family='"Liberation Serif", serif' font-size="9.3" text-anchor="start" fill="#111" stroke="#111" stroke-width="0.3" transform="translate(488.20 64.60) rotate(-90) scale(0.9 1.0)">WP1130 + IL-3</text>
<defs><filter id="bl" x="-20%" y="-80%" width="140%" height="260%"><feGaussianBlur stdDeviation="0.55"/></filter><filter id="bl2" x="-20%" y="-80%" width="140%" height="260%"><feGaussianBlur stdDeviation="0.9"/></filter></defs>
<rect x="447.9" y="68.55" width="42.3" height="10.50" fill="#d0d0d0" stroke="#1c1c1c" stroke-width="1.3"/>
<rect x="449.0" y="69.70" width="40.1" height="5.31" fill="#bdbdbd" filter="url(#bl2)"/>
<rect x="448.9" y="69.60" width="40.3" height="8.40" fill="none" stroke="#f6f6f6" stroke-width="0.6"/>
<rect x="449.60" y="73.80" width="12.80" height="2.60" rx="1.3" fill="rgb(25,25,25)" filter="url(#bl)"/>
<rect x="464.20" y="73.40" width="12.20" height="3.20" rx="1.3" fill="rgb(10,10,10)" filter="url(#bl)"/>
<rect x="478.50" y="74.10" width="10.30" height="2.40" rx="1.3" fill="rgb(115,115,115)" filter="url(#bl)"/>
<text x="0" y="0" font-family='"Liberation Serif", serif' font-size="9.6" text-anchor="start" fill="#111" stroke="#111" stroke-width="0.28" transform="translate(494.00 77.60) scale(0.94 1.0)">pJak2</text>
<rect x="447.9" y="82.85" width="42.3" height="9.80" fill="#d8d8d8" stroke="#1c1c1c" stroke-width="1.3"/>
<rect x="449.0" y="84.00" width="40.1" height="4.99" fill="#cccccc" filter="url(#bl2)"/>
<rect x="448.9" y="83.90" width="40.3" height="7.70" fill="none" stroke="#f6f6f6" stroke-width="0.6"/>
<rect x="449.40" y="86.10" width="13.40" height="3.00" rx="1.3" fill="rgb(20,20,20)" filter="url(#bl)"/>
<rect x="464.00" y="86.60" width="11.60" height="2.80" rx="1.3" fill="rgb(40,40,40)" filter="url(#bl)"/>
<rect x="478.20" y="86.25" width="3.80" height="3.50" rx="1.3" fill="rgb(200,200,200)" filter="url(#bl)"/>
<text x="0" y="0" font-family='"Liberation Serif", serif' font-size="9.6" text-anchor="start" fill="#111" stroke="#111" stroke-width="0.28" transform="translate(494.00 91.90) scale(0.94 1.0)">Jak2</text>
<rect x="447.9" y="96.65" width="42.3" height="9.50" fill="#eeeeee" stroke="#1c1c1c" stroke-width="1.3"/>
<rect x="449.0" y="97.80" width="40.1" height="4.86" fill="#e8e8e8" filter="url(#bl2)"/>
<rect x="448.9" y="97.70" width="40.3" height="7.40" fill="none" stroke="#f6f6f6" stroke-width="0.6"/>
<rect x="450.00" y="100.70" width="11.50" height="2.60" rx="1.3" fill="rgb(215,215,215)" filter="url(#bl)"/>
<rect x="463.80" y="100.40" width="11.80" height="3.40" rx="1.3" fill="rgb(5,5,5)" filter="url(#bl)"/>
<rect x="478.00" y="101.00" width="11.00" height="2.40" rx="1.3" fill="rgb(190,190,190)" filter="url(#bl)"/>
<text x="0" y="0" font-family='"Liberation Serif", serif' font-size="9.6" text-anchor="start" fill="#111" stroke="#111" stroke-width="0.28" transform="translate(494.00 104.90) scale(0.94 1.0)">pStat 5</text>
<rect x="447.9" y="110.55" width="42.3" height="10.40" fill="#eeeeee" stroke="#1c1c1c" stroke-width="1.3"/>
<rect x="449.0" y="111.70" width="40.1" height="5.26" fill="#e2e2e2" filter="url(#bl2)"/>
<rect x="448.9" y="111.60" width="40.3" height="8.30" fill="none" stroke="#f6f6f6" stroke-width="0.6"/>
<rect x="449.60" y="114.40" width="12.20" height="3.20" rx="1.3" fill="rgb(25,25,25)" filter="url(#bl)"/>
<rect x="463.60" y="114.30" width="11.40" height="2.80" rx="1.3" fill="rgb(35,35,35)" filter="url(#bl)"/>
<rect x="477.20" y="114.20" width="11.00" height="2.60" rx="1.3" fill="rgb(40,40,40)" filter="url(#bl)"/>
<text x="0" y="0" font-family='"Liberation Serif", serif' font-size="9.6" text-anchor="start" fill="#111" stroke="#111" stroke-width="0.28" transform="translate(494.00 118.90) scale(0.94 1.0)">Stat&#8201;5</text>
<text x="0" y="0" font-family='"Liberation Sans", sans-serif' font-size="12.8" text-anchor="start" font-weight="bold" fill="#111" stroke="#111" stroke-width="0.25" transform="translate(0.60 175.60) scale(0.92 1.0)">C</text>
<line x1="38.70" y1="176.50" x2="135.20" y2="176.50" stroke="#cfcfcf" stroke-width="1"/>
<line x1="38.70" y1="271.60" x2="135.20" y2="271.60" stroke="#c4c4c4" stroke-width="1"/>
<line x1="135.20" y1="176.50" x2="135.20" y2="272.40" stroke="#222" stroke-width="1.2"/>
<line x1="38.70" y1="176.00" x2="38.70" y2="272.10" stroke="#222" stroke-width="1.2"/>
<line x1="46.30" y1="271.90" x2="46.30" y2="274.60" stroke="#222" stroke-width="1.0"/>
<text x="0" y="0" font-family='"Liberation Sans", sans-serif' font-size="6.8" text-anchor="middle" fill="#111" stroke="#111" stroke-width="0.2" transform="translate(46.30 282.00) scale(1.0 1.1)">0</text>
<line x1="62.50" y1="271.90" x2="62.50" y2="274.60" stroke="#222" stroke-width="1.0"/>
<text x="0" y="0" font-family='"Liberation Sans", sans-serif' font-size="6.8" text-anchor="middle" fill="#111" stroke="#111" stroke-width="0.2" transform="translate(62.50 282.00) scale(1.0 1.1)">1</text>
<line x1="78.70" y1="271.90" x2="78.70" y2="274.60" stroke="#222" stroke-width="1.0"/>
<text x="0" y="0" font-family='"Liberation Sans", sans-serif' font-size="6.8" text-anchor="middle" fill="#111" stroke="#111" stroke-width="0.2" transform="translate(78.70 282.00) scale(1.0 1.1)">2</text>
<line x1="94.90" y1="271.90" x2="94.90" y2="274.60" stroke="#222" stroke-width="1.0"/>
<text x="0" y="0" font-family='"Liberation Sans", sans-serif' font-size="6.8" text-anchor="middle" fill="#111" stroke="#111" stroke-width="0.2" transform="translate(94.90 282.00) scale(1.0 1.1)">3</text>
<line x1="111.10" y1="271.90" x2="111.10" y2="274.60" stroke="#222" stroke-width="1.0"/>
<text x="0" y="0" font-family='"Liberation Sans", sans-serif' font-size="6.8" text-anchor="middle" fill="#111" stroke="#111" stroke-width="0.2" transform="translate(111.10 282.00) scale(1.0 1.1)">4</text>
<line x1="127.30" y1="271.90" x2="127.30" y2="274.60" stroke="#222" stroke-width="1.0"/>
<text x="0" y="0" font-family='"Liberation Sans", sans-serif' font-size="6.8" text-anchor="middle" fill="#111" stroke="#111" stroke-width="0.2" transform="translate(127.30 282.00) scale(1.0 1.1)">5</text>
<text x="0" y="0" font-family='"Liberation Sans", sans-serif' font-size="6.6" text-anchor="end" fill="#111" stroke="#111" stroke-width="0.2" transform="translate(34.70 180.00) scale(1.0 1.12)">125</text>
<text x="0" y="0" font-family='"Liberation Sans", sans-serif' font-size="6.6" text-anchor="end" fill="#111" stroke="#111" stroke-width="0.2" transform="translate(34.70 198.84) scale(1.0 1.12)">100</text>
<text x="0" y="0" font-family='"Liberation Sans", sans-serif' font-size="6.6" text-anchor="end" fill="#111" stroke="#111" stroke-width="0.2" transform="translate(34.70 217.68) scale(1.0 1.12)">75</text>
<text x="0" y="0" font-family='"Liberation Sans", sans-serif' font-size="6.6" text-anchor="end" fill="#111" stroke="#111" stroke-width="0.2" transform="translate(34.70 236.52) scale(1.0 1.12)">50</text>
<text x="0" y="0" font-family='"Liberation Sans", sans-serif' font-size="6.6" text-anchor="end" fill="#111" stroke="#111" stroke-width="0.2" transform="translate(34.70 255.36) scale(1.0 1.12)">25</text>
<text x="0" y="0" font-family='"Liberation Sans", sans-serif' font-size="6.6" text-anchor="end" fill="#111" stroke="#111" stroke-width="0.2" transform="translate(34.70 274.20) scale(1.0 1.12)">0</text>
<text x="0" y="0" font-family='"Liberation Sans", sans-serif' font-size="8.0" text-anchor="middle" font-weight="bold" fill="#111" stroke="#111" stroke-width="0.22" transform="translate(86.10 293.00) scale(1.0 1.05)">&#181;M WP1130</text>
<text x="0" y="0" font-family='"Liberation Sans", sans-serif' font-size="7.6" text-anchor="middle" font-weight="bold" fill="#111" stroke="#111" stroke-width="0.22" transform="translate(7.90 223.70) rotate(-90) scale(1.0 1.05)">Colonies&#8201;:</text>
<text x="0" y="0" font-family='"Liberation Sans", sans-serif' font-size="7.5" text-anchor="middle" font-weight="bold" fill="#111" stroke="#111" stroke-width="0.22" transform="translate(16.80 225.20) rotate(-90) scale(1.0 1.05)">% of Control</text>
<path d="M46.30 193.23L66.55 195.49L86.80 201.52L127.30 219.60" fill="none" stroke="#cbcbcb" stroke-width="1.0"/>
<path d="M46.30 196.24L66.55 196.24L86.80 202.27L127.30 241.46" fill="none" stroke="#cbcbcb" stroke-width="1.0"/>
<path d="M46.30 203.78L66.55 218.85L86.80 271.22L127.30 271.22" fill="none" stroke="#cbcbcb" stroke-width="1.0"/>
<path d="M46.30 206.04L66.55 243.72L86.80 254.27L127.30 264.06" fill="none" stroke="#cbcbcb" stroke-width="1.0"/>
<path d="M46.30 200.01L66.55 267.83L86.80 271.22" fill="none" stroke="#cbcbcb" stroke-width="1.0"/>
<line x1="46.30" y1="181.62" x2="46.30" y2="214.18" stroke="#111" stroke-width="1.0"/>
<line x1="44.50" y1="181.62" x2="48.10" y2="181.62" stroke="#111" stroke-width="1.0"/>
<line x1="44.50" y1="214.18" x2="48.10" y2="214.18" stroke="#111" stroke-width="1.0"/>
<line x1="66.55" y1="185.92" x2="66.55" y2="205.06" stroke="#111" stroke-width="1.0"/>
<line x1="64.75" y1="185.92" x2="68.35" y2="185.92" stroke="#111" stroke-width="1.0"/>
<line x1="64.75" y1="205.06" x2="68.35" y2="205.06" stroke="#111" stroke-width="1.0"/>
<line x1="86.80" y1="194.96" x2="86.80" y2="208.07" stroke="#111" stroke-width="1.0"/>
<line x1="85.00" y1="194.96" x2="88.60" y2="194.96" stroke="#111" stroke-width="1.0"/>
<line x1="85.00" y1="208.07" x2="88.60" y2="208.07" stroke="#111" stroke-width="1.0"/>
<line x1="127.30" y1="217.34" x2="127.30" y2="221.86" stroke="#111" stroke-width="1.0"/>
<line x1="125.50" y1="217.34" x2="129.10" y2="217.34" stroke="#111" stroke-width="1.0"/>
<line x1="125.50" y1="221.86" x2="129.10" y2="221.86" stroke="#111" stroke-width="1.0"/>
<line x1="127.30" y1="236.18" x2="127.30" y2="246.73" stroke="#111" stroke-width="1.0"/>
<line x1="125.50" y1="236.18" x2="129.10" y2="236.18" stroke="#111" stroke-width="1.0"/>
<line x1="125.50" y1="246.73" x2="129.10" y2="246.73" stroke="#111" stroke-width="1.0"/>
<line x1="66.55" y1="241.46" x2="66.55" y2="245.98" stroke="#111" stroke-width="1.0"/>
<line x1="64.75" y1="241.46" x2="68.35" y2="241.46" stroke="#111" stroke-width="1.0"/>
<line x1="64.75" y1="245.98" x2="68.35" y2="245.98" stroke="#111" stroke-width="1.0"/>
<line x1="66.55" y1="263.31" x2="66.55" y2="272.35" stroke="#111" stroke-width="1.0"/>
<line x1="64.75" y1="263.31" x2="68.35" y2="263.31" stroke="#111" stroke-width="1.0"/>
<line x1="64.75" y1="272.35" x2="68.35" y2="272.35" stroke="#111" stroke-width="1.0"/>
<rect x="44.23" y="191.16" width="4.14" height="4.14" fill="#111"/>
<rect x="64.48" y="193.42" width="4.14" height="4.14" fill="#111"/>
<rect x="84.73" y="199.45" width="4.14" height="4.14" fill="#111"/>
<rect x="125.23" y="217.53" width="4.14" height="4.14" fill="#111"/>
<path d="M46.30 193.71L48.60 196.24L46.30 198.77L44.00 196.24Z" fill="#111"/>
<path d="M66.55 193.71L68.85 196.24L66.55 198.77L64.25 196.24Z" fill="#111"/>
<path d="M86.80 199.74L89.10 202.27L86.80 204.80L84.50 202.27Z" fill="#111"/>
<path d="M127.30 238.93L129.60 241.46L127.30 243.99L125.00 241.46Z" fill="#111"/>
<path d="M46.30 206.19L48.71 201.82L43.88 201.82Z" fill="#111"/>
<path d="M66.55 221.26L68.97 216.89L64.13 216.89Z" fill="#111"/>
<path d="M46.30 208.45L48.71 204.08L43.88 204.08Z" fill="#111"/>
<path d="M66.55 246.13L68.97 241.76L64.13 241.76Z" fill="#111"/>
<path d="M86.80 256.68L89.22 252.31L84.38 252.31Z" fill="#111"/>
<path d="M127.30 266.48L129.72 262.11L124.88 262.11Z" fill="#111"/>
<path d="M46.30 197.59L48.71 201.96L43.88 201.96Z" fill="#111"/>
<path d="M66.55 265.42L68.97 269.79L64.13 269.79Z" fill="#111"/>
<circle cx="86.80" cy="271.22" r="2.18" fill="#111"/>
<rect x="84.59" y="269.02" width="4.41" height="4.41" fill="#111"/>
<circle cx="127.30" cy="271.22" r="2.18" fill="#111"/>
<rect x="125.09" y="269.02" width="4.41" height="4.41" fill="#111"/>
<rect x="137.6" y="176.4" width="48.6" height="57.3" fill="none" stroke="#e0e0e0" stroke-width="1"/>
<line x1="144.00" y1="184.60" x2="156.80" y2="184.60" stroke="#e8e8e8" stroke-width="0.7"/>
<rect x="148.06" y="182.66" width="3.87" height="3.87" fill="#111"/>
<text x="0" y="0" font-family='"Liberation Sans", sans-serif' font-size="7.7" text-anchor="start" fill="#111" stroke="#111" stroke-width="0.2" transform="translate(158.80 187.50) scale(1.0 1.08)">CML 1</text>
<line x1="144.00" y1="195.50" x2="156.80" y2="195.50" stroke="#e8e8e8" stroke-width="0.7"/>
<path d="M150.00 193.24L152.26 197.33L147.74 197.33Z" fill="#111"/>
<text x="0" y="0" font-family='"Liberation Sans", sans-serif' font-size="7.7" text-anchor="start" fill="#111" stroke="#111" stroke-width="0.2" transform="translate(158.80 198.40) scale(1.0 1.08)">CML 2</text>
<line x1="144.00" y1="206.40" x2="156.80" y2="206.40" stroke="#e8e8e8" stroke-width="0.7"/>
<path d="M150.00 208.66L152.26 204.57L147.74 204.57Z" fill="#111"/>
<text x="0" y="0" font-family='"Liberation Sans", sans-serif' font-size="7.7" text-anchor="start" fill="#111" stroke="#111" stroke-width="0.2" transform="translate(158.80 209.30) scale(1.0 1.08)">CML 3</text>
<line x1="144.00" y1="217.30" x2="156.80" y2="217.30" stroke="#e8e8e8" stroke-width="0.7"/>
<path d="M150.00 214.94L152.15 217.30L150.00 219.67L147.85 217.30Z" fill="#111"/>
<text x="0" y="0" font-family='"Liberation Sans", sans-serif' font-size="7.7" text-anchor="start" fill="#111" stroke="#111" stroke-width="0.2" transform="translate(158.80 220.20) scale(1.0 1.08)">BM 1</text>
<line x1="144.00" y1="228.20" x2="156.80" y2="228.20" stroke="#e8e8e8" stroke-width="0.7"/>
<circle cx="150.00" cy="228.20" r="2.04" fill="#111"/>
<text x="0" y="0" font-family='"Liberation Sans", sans-serif' font-size="7.7" text-anchor="start" fill="#111" stroke="#111" stroke-width="0.2" transform="translate(158.80 231.10) scale(1.0 1.08)">BM 2</text>
<text x="0" y="0" font-family='"Liberation Sans", sans-serif' font-size="13.0" text-anchor="start" font-weight="bold" fill="#111" stroke="#111" stroke-width="0.35" transform="translate(215.50 175.90) scale(0.95 1.0)">D</text>
<line x1="254.30" y1="177.40" x2="353.30" y2="177.40" stroke="#cfcfcf" stroke-width="1"/>
<line x1="254.30" y1="273.20" x2="353.30" y2="273.20" stroke="#d2d2d2" stroke-width="1"/>
<line x1="353.30" y1="177.40" x2="353.30" y2="274.00" stroke="#222" stroke-width="1.2"/>
<line x1="254.30" y1="176.90" x2="254.30" y2="273.70" stroke="#222" stroke-width="1.2"/>
<line x1="262.00" y1="273.50" x2="262.00" y2="276.20" stroke="#222" stroke-width="1.0"/>
<text x="0" y="0" font-family='"Liberation Sans", sans-serif' font-size="6.8" text-anchor="middle" fill="#111" stroke="#111" stroke-width="0.2" transform="translate(262.00 284.00) scale(1.0 1.1)">0</text>
<line x1="278.50" y1="273.50" x2="278.50" y2="276.20" stroke="#222" stroke-width="1.0"/>
<text x="0" y="0" font-family='"Liberation Sans", sans-serif' font-size="6.8" text-anchor="middle" fill="#111" stroke="#111" stroke-width="0.2" transform="translate(278.50 284.00) scale(1.0 1.1)">1</text>
<line x1="295.00" y1="273.50" x2="295.00" y2="276.20" stroke="#222" stroke-width="1.0"/>
<text x="0" y="0" font-family='"Liberation Sans", sans-serif' font-size="6.8" text-anchor="middle" fill="#111" stroke="#111" stroke-width="0.2" transform="translate(295.00 284.00) scale(1.0 1.1)">2</text>
<line x1="311.50" y1="273.50" x2="311.50" y2="276.20" stroke="#222" stroke-width="1.0"/>
<text x="0" y="0" font-family='"Liberation Sans", sans-serif' font-size="6.8" text-anchor="middle" fill="#111" stroke="#111" stroke-width="0.2" transform="translate(311.50 284.00) scale(1.0 1.1)">3</text>
<line x1="328.00" y1="273.50" x2="328.00" y2="276.20" stroke="#222" stroke-width="1.0"/>
<text x="0" y="0" font-family='"Liberation Sans", sans-serif' font-size="6.8" text-anchor="middle" fill="#111" stroke="#111" stroke-width="0.2" transform="translate(328.00 284.00) scale(1.0 1.1)">4</text>
<line x1="344.50" y1="273.50" x2="344.50" y2="276.20" stroke="#222" stroke-width="1.0"/>
<text x="0" y="0" font-family='"Liberation Sans", sans-serif' font-size="6.8" text-anchor="middle" fill="#111" stroke="#111" stroke-width="0.2" transform="translate(344.50 284.00) scale(1.0 1.1)">5</text>
<text x="0" y="0" font-family='"Liberation Sans", sans-serif' font-size="6.6" text-anchor="end" fill="#111" stroke="#111" stroke-width="0.2" transform="translate(250.20 180.90) scale(1.0 1.12)">125</text>
<text x="0" y="0" font-family='"Liberation Sans", sans-serif' font-size="6.6" text-anchor="end" fill="#111" stroke="#111" stroke-width="0.2" transform="translate(250.20 200.00) scale(1.0 1.12)">100</text>
<text x="0" y="0" font-family='"Liberation Sans", sans-serif' font-size="6.6" text-anchor="end" fill="#111" stroke="#111" stroke-width="0.2" transform="translate(250.20 219.10) scale(1.0 1.12)">75</text>
<text x="0" y="0" font-family='"Liberation Sans", sans-serif' font-size="6.6" text-anchor="end" fill="#111" stroke="#111" stroke-width="0.2" transform="translate(250.20 238.20) scale(1.0 1.12)">50</text>
<text x="0" y="0" font-family='"Liberation Sans", sans-serif' font-size="6.6" text-anchor="end" fill="#111" stroke="#111" stroke-width="0.2" transform="translate(250.20 257.30) scale(1.0 1.12)">25</text>
<text x="0" y="0" font-family='"Liberation Sans", sans-serif' font-size="6.6" text-anchor="end" fill="#111" stroke="#111" stroke-width="0.2" transform="translate(250.20 276.40) scale(1.0 1.12)">0</text>
<text x="0" y="0" font-family='"Liberation Sans", sans-serif' font-size="7.9" text-anchor="middle" font-weight="bold" fill="#111" stroke="#111" stroke-width="0.22" transform="translate(302.90 294.60) scale(1.0 1.05)">&#181;M Drug</text>
<text x="0" y="0" font-family='"Liberation Sans", sans-serif' font-size="7.6" text-anchor="middle" font-weight="bold" fill="#111" stroke="#111" stroke-width="0.22" transform="translate(222.80 224.60) rotate(-90) scale(1.0 1.05)">Colonies:</text>
<text x="0" y="0" font-family='"Liberation Sans", sans-serif' font-size="7.2" text-anchor="middle" font-weight="bold" fill="#111" stroke="#111" stroke-width="0.22" transform="translate(230.70 224.10) rotate(-90) scale(1.0 1.08)">% of Control</text>
<path d="M262.00 196.80L270.25 198.33L278.50 203.68L303.25 206.73L344.50 211.32" fill="none" stroke="#d0d0d0" stroke-width="1.0"/>
<path d="M262.00 196.80L270.25 202.15L278.50 228.12L303.25 250.28L344.50 251.81" fill="none" stroke="#d0d0d0" stroke-width="1.0"/>
<path d="M262.00 196.80L270.25 240.35L278.50 247.22L303.25 251.04L344.50 257.16" fill="none" stroke="#d0d0d0" stroke-width="1.0"/>
<path d="M262.00 196.80L270.25 268.62L278.50 273.20L303.25 273.20L344.50 273.20" fill="none" stroke="#d0d0d0" stroke-width="1.0"/>
<rect x="259.88" y="194.68" width="4.23" height="4.23" fill="#111"/>
<rect x="268.13" y="196.21" width="4.23" height="4.23" fill="#111"/>
<rect x="276.38" y="201.56" width="4.23" height="4.23" fill="#111"/>
<rect x="301.13" y="204.62" width="4.23" height="4.23" fill="#111"/>
<rect x="342.38" y="209.20" width="4.23" height="4.23" fill="#111"/>
<path d="M262.00 194.33L264.47 198.80L259.53 198.80Z" fill="#111"/>
<path d="M270.25 199.68L272.72 204.15L267.78 204.15Z" fill="#111"/>
<path d="M278.50 225.66L280.97 230.12L276.03 230.12Z" fill="#111"/>
<path d="M303.25 247.81L305.72 252.28L300.78 252.28Z" fill="#111"/>
<path d="M344.50 249.34L346.97 253.81L342.03 253.81Z" fill="#111"/>
<path d="M262.00 199.27L264.47 194.80L259.53 194.80Z" fill="#111"/>
<path d="M270.25 242.82L272.72 238.35L267.78 238.35Z" fill="#111"/>
<path d="M278.50 249.69L280.97 245.23L276.03 245.23Z" fill="#111"/>
<path d="M303.25 253.51L305.72 249.05L300.78 249.05Z" fill="#111"/>
<path d="M344.50 259.62L346.97 255.16L342.03 255.16Z" fill="#111"/>
<path d="M262.00 194.21L264.35 196.80L262.00 199.38L259.65 196.80Z" fill="#111"/>
<path d="M270.25 266.03L272.60 268.62L270.25 271.20L267.90 268.62Z" fill="#111"/>
<path d="M278.50 270.62L280.85 273.20L278.50 275.78L276.15 273.20Z" fill="#111"/>
<path d="M303.25 270.62L305.60 273.20L303.25 275.78L300.90 273.20Z" fill="#111"/>
<path d="M344.50 270.62L346.85 273.20L344.50 275.78L342.15 273.20Z" fill="#111"/>
<rect x="356.2" y="177.6" width="81" height="44.5" fill="none" stroke="#d6d6d6" stroke-width="1"/>
<line x1="362.00" y1="183.80" x2="375.00" y2="183.80" stroke="#e6e6e6" stroke-width="0.7"/>
<rect x="366.64" y="182.05" width="3.51" height="3.51" fill="#111"/>
<text x="0" y="0" font-family='"Liberation Sans", sans-serif' font-size="8.3" text-anchor="start" fill="#111" stroke="#111" stroke-width="0.2" transform="translate(378.20 186.70) scale(1.0 1.03)">Pt 1- Imatinib</text>
<line x1="362.00" y1="194.80" x2="375.00" y2="194.80" stroke="#e6e6e6" stroke-width="0.7"/>
<path d="M368.40 192.75L370.45 196.46L366.35 196.46Z" fill="#111"/>
<text x="0" y="0" font-family='"Liberation Sans", sans-serif' font-size="8.3" text-anchor="start" fill="#111" stroke="#111" stroke-width="0.2" transform="translate(378.20 197.70) scale(1.0 1.03)">Pt 1 - WP1130</text>
<line x1="362.00" y1="205.80" x2="375.00" y2="205.80" stroke="#e6e6e6" stroke-width="0.7"/>
<path d="M368.40 207.85L370.45 204.14L366.35 204.14Z" fill="#111"/>
<text x="0" y="0" font-family='"Liberation Sans", sans-serif' font-size="8.3" text-anchor="start" fill="#111" stroke="#111" stroke-width="0.2" transform="translate(378.20 208.70) scale(1.0 1.03)">Pt 2 - Imatinib</text>
<line x1="362.00" y1="216.80" x2="375.00" y2="216.80" stroke="#e6e6e6" stroke-width="0.7"/>
<path d="M368.40 214.66L370.35 216.80L368.40 218.95L366.45 216.80Z" fill="#111"/>
<text x="0" y="0" font-family='"Liberation Sans", sans-serif' font-size="8.3" text-anchor="start" fill="#111" stroke="#111" stroke-width="0.2" transform="translate(378.20 219.70) scale(1.0 1.03)">Pt 2 - WP1130</text>
</svg>
</body></html>
